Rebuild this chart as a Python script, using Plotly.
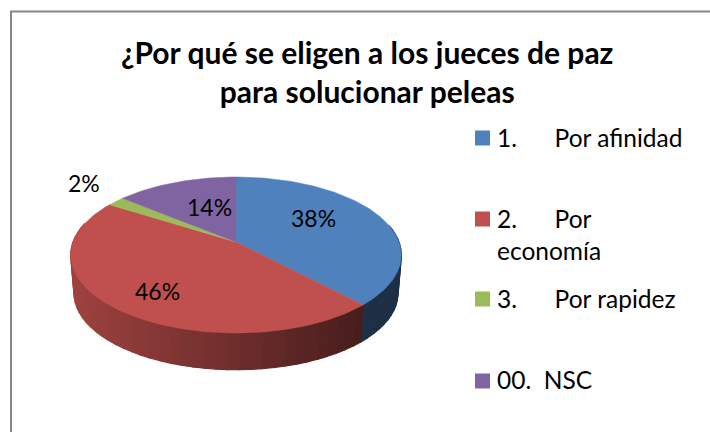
import math
import plotly.graph_objects as go

# Data
categories = ["1.      Por afinidad", "2.      Por<br>economía", "3.      Por rapidez", "00.  NSC"]
values = [38, 46, 2, 14]
labels = ["38%", "46%", "2%", "14%"]
colors = ["#4F81BD", "#C0504D", "#9BBB59", "#8064A2"]
title = "¿Por qué se eligen a los jueces de paz<br>para solucionar peleas"

# Layout and projection of the pie disc
W, H = 710, 432
CX, CY, AX, PY, PC = 236.0, 242.0, 163.0, 35.5, -0.1667
DEPTH, SHRINK = 38.5, 0.98
label_pos = [(313, 218), (157, 291), (84, 183), (209, 207)]
legend_y = [138, 219, 299, 381]
legend_text_y = [137, 217, 298, 379]
FONT = "Lato, Carlito, sans-serif"


def top(t):
    s = -math.cos(t)
    d = PC * s + 1
    return CX + AX * math.sin(t) / d, (PY * s + CY) / d


def bottom(t):
    x, y = top(t)
    return CX + (x - CX) * SHRINK, CY + (y - CY) * SHRINK + DEPTH


def shade(hex_color, f):
    r, g, b = (int(hex_color[i:i + 2], 16) for i in (1, 3, 5))
    return f"rgb({r * f:.0f},{g * f:.0f},{b * f:.0f})"


fig = go.Figure()
total = sum(values)
edges = [0.0]
for v in values:
    edges.append(edges[-1] + v / total * 2 * math.pi)

# Side wall, drawn in facets like the banded shading of the reference
for i, color in enumerate(colors):
    a0, a1 = edges[i], edges[i + 1]
    n = max(2, int((a1 - a0) / math.radians(3.5)))
    for k in range(n):
        t0 = a0 + (a1 - a0) * k / n
        t1 = a0 + (a1 - a0) * (k + 1) / n
        if math.cos((t0 + t1) / 2) > 0.25:
            continue
        pts = [top(t0), top(t1), bottom(t1), bottom(t0), top(t0)]
        xm = (pts[0][0] + pts[1][0]) / 2
        f = max(0.37, min(0.82, 0.82 - (xm - 75) / (363 - 75) * 0.45))
        c = shade(color, f)
        fig.add_trace(go.Scatter(
            x=[p[0] for p in pts], y=[p[1] for p in pts], mode="lines",
            fill="toself", fillcolor=c, line=dict(color=c, width=1.2),
            hoverinfo="skip", showlegend=False))

# Top surface
for i, color in enumerate(colors):
    a0, a1 = edges[i], edges[i + 1]
    n = max(4, int((a1 - a0) / math.radians(1)))
    pts = [(CX, CY)] + [top(a0 + (a1 - a0) * k / n) for k in range(n + 1)] + [(CX, CY)]
    fig.add_trace(go.Scatter(
        x=[p[0] for p in pts], y=[p[1] for p in pts], mode="lines",
        fill="toself", fillcolor=color, line=dict(color=color, width=0.5),
        name=categories[i].replace("<br>", " "), showlegend=False))

# Legend swatches
fig.add_trace(go.Scatter(
    x=[482.5] * len(categories), y=legend_y, mode="markers",
    marker=dict(symbol="square", size=15, color=colors, line=dict(width=0)),
    hoverinfo="skip", showlegend=False))

annotations = []
for (x, y), lab in zip(label_pos, labels):
    annotations.append(dict(x=x, y=y, text=lab, showarrow=False, xanchor="center", yanchor="middle",
                            font=dict(family=FONT, size=23, color="#000000")))
for y, cat in zip(legend_text_y, categories):
    wrapped = "<br>" in cat
    annotations.append(dict(x=495, y=y - 15 if wrapped else y, text=cat.replace(" ", "\u00a0"), showarrow=False,
                            xanchor="left", yanchor="top" if wrapped else "middle", align="left",
                            font=dict(family=FONT, size=24.5, color="#000000")))
annotations.append(dict(x=367, y=71, text="<b>" + title.replace("<br>", "</b><br><b>") + "</b>", showarrow=False,
                        xanchor="center", yanchor="middle", align="center",
                        font=dict(family=FONT, size=30, color="#000000")))

fig.update_layout(
    width=W, height=H, margin=dict(l=0, r=0, t=0, b=0),
    paper_bgcolor="white", plot_bgcolor="white", showlegend=False,
    xaxis=dict(range=[0, W], visible=False, fixedrange=True),
    yaxis=dict(range=[H, 0], visible=False, fixedrange=True),
    annotations=annotations,
    shapes=[
        dict(type="line", xref="x", yref="y", x0=11, x1=11, y0=11, y1=H, line=dict(color="#868686", width=2)),
        dict(type="line", xref="x", yref="y", x0=10, x1=W, y0=11.5, y1=11.5, line=dict(color="#868686", width=2)),
    ],
)

fig.write_html("out.html", config={"displayModeBar": False},
               post_script="document.body.style.margin='0';document.body.style.overflow='hidden';window.dispatchEvent(new Event('resize'));")
